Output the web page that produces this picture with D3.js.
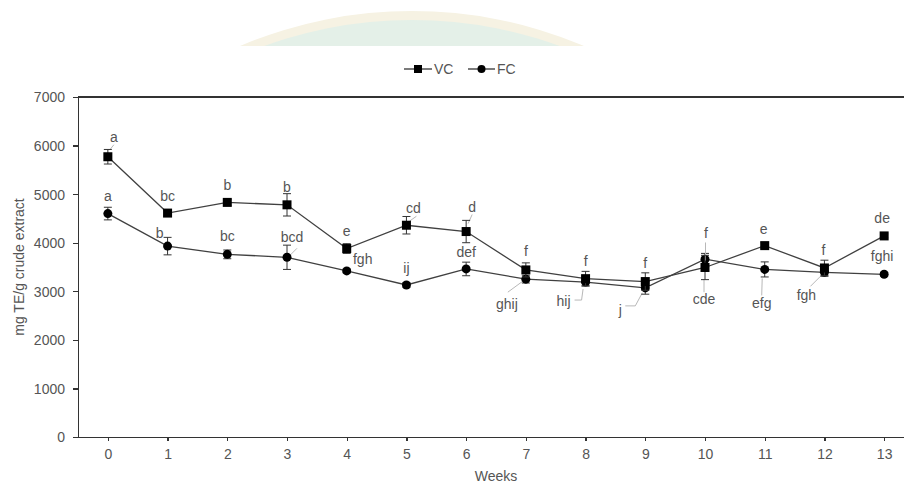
<!DOCTYPE html>
<meta charset="utf-8"/>
<head>
<script src="https://d3js.org/d3.v7.min.js"></script>
<style>
body { margin: 0; background: #fff; }
svg { display: block; }
text { font-family: "Liberation Sans", Arial, sans-serif; fill: #555; }
.axis path, .axis line { stroke: #333; stroke-width: 1.3px; shape-rendering: crispEdges; }
.axis text { font-size: 14px; fill: #555; }
.series { fill: none; stroke: #404040; stroke-width: 1.3px; }
.err { stroke: #333; stroke-width: 1px; }
.lead { fill: none; stroke: #b8b8b8; stroke-width: 1px; }
.lbl { font-size: 14px; text-anchor: middle; }
</style>
</head>
<body>
<div id="chart"></div>
<script>

// weeks on x
var weeks = [0, 1, 2, 3, 4, 5, 6, 7, 8, 9, 10, 11, 12, 13];

// VC series (mg TE/g crude extract)
var vcValues = [5770, 4610, 4830, 4780, 3880, 4360, 4230, 3440, 3260, 3200, 3490, 3940, 3480, 4140];
var vcErrors = [150, 60, 60, 230, 100, 180, 230, 145, 150, 180, 250, 60, 160, 40];
var vcLetters = ["a", "bc", "b", "b", "e", "cd", "d", "f", "f", "f", "f", "e", "f", "de"];

// FC series
var fcValues = [4600, 3930, 3760, 3700, 3420, 3130, 3460, 3250, 3190, 3070, 3660, 3450, 3390, 3350];
var fcErrors = [130, 180, 90, 250, 40, 50, 140, 80, 80, 130, 120, 155, 80, 40];
var fcLetters = ["a", "b", "bc", "bcd", "fgh", "ij", "def", "ghij", "hij", "j", "cde", "efg", "fgh", "fghi"];

var yTicks = [0, 1000, 2000, 3000, 4000, 5000, 6000, 7000];

// label placement (pixel offsets from the point) and leader lines
var vcLabelPos = [[6,-15],[0,-12],[0,-12],[0,-13],[0,-13],[7,-12],[6,-20],[0,-14],[0,-13],[0,-14],[1,-29],[-1,-12],[-1,-13],[-2,-13]];
var vcLeaders = {0: [[2,-7],[6,-12]], 5: [[3,-4],[10,-9]], 6: [[2,-8],[6,-17]], 10: [[0.5,-25],[0.5,-7]]};
var fcLabelPos = [[0,-13],[-8,-8],[0,-13],[5,-15],[16,-7],[0,-12],[0,-12],[-19,30],[-22,24],[-25,27],[-1,45],[-3,39],[-18,28],[-2,-13]];
var fcLeaders = {3: [[3,-2],[10,-9]], 7: [[-18,13],[-3,2]], 8: [[-11,18],[-4,18],[-2.5,7]],
                 9: [[-20,18],[-10,18],[-3,5]], 10: [[-1,33],[-1,20]], 11: [[-3,26],[-2.5,9]], 12: [[-14,14],[-4,4]]};

var W = 904, H = 485;
var svg = d3.select("#chart").append("svg").attr("width", W).attr("height", H);

// faint watermark arc at the top
var wm = svg.append("g");
svg.append("clipPath").attr("id", "wmclip").append("rect").attr("x", 0).attr("y", 0).attr("width", W).attr("height", 46);
wm.attr("clip-path", "url(#wmclip)");
wm.append("circle").attr("cx", 412).attr("cy", 451).attr("r", 440).attr("fill", "#f6f2e3");
wm.append("circle").attr("cx", 412).attr("cy", 452).attr("r", 432).attr("fill", "#e4f0e8");

var x = d3.scaleLinear().domain([-0.5, 13.5]).range([78, 914]);
var y = d3.scaleLinear().domain([0, 7000]).range([437, 97]);

// axes
svg.append("g").attr("class", "axis")
  .attr("transform", "translate(0,437)")
  .call(d3.axisBottom(x).tickValues(weeks).tickSize(4).tickPadding(8).tickSizeOuter(0))
  .call(function(g) { g.select(".domain").attr("d", "M73,0.5H904"); });

svg.append("g").attr("class", "axis")
  .attr("transform", "translate(78,0)")
  .call(d3.axisLeft(y).tickValues(yTicks).tickFormat(d3.format("d")).tickSize(5).tickPadding(8).tickSizeOuter(0))
  .call(function(g) { g.selectAll(".tick text").attr("dy", "0.35em"); });

svg.append("line").attr("x1", 78).attr("x2", 904).attr("y1", 97).attr("y2", 97)
  .attr("stroke", "#333").attr("stroke-width", 1.3).attr("shape-rendering", "crispEdges");

svg.append("text").attr("transform", "translate(24,267) rotate(-90)")
  .attr("text-anchor", "middle").style("font-size", "14px").text("mg TE/g crude extract");
svg.append("text").attr("x", 496).attr("y", 481).attr("text-anchor", "middle")
  .style("font-size", "14px").text("Weeks");

var line = d3.line().x(function(d) { return x(d[0]); }).y(function(d) { return y(d[1]); });

function drawSeries(values, errors, letters, labelPos, leaders, marker) {
  var pts = weeks.map(function(w, i) { return [w, values[i], errors[i], letters[i], labelPos[i], leaders[i]]; });
  var g = svg.append("g");

  g.append("path").attr("class", "series").attr("d", line(pts));

  // leader lines
  pts.forEach(function(d) {
    if (!d[5]) return;
    var px = x(d[0]), py = y(d[1]);
    g.append("path").attr("class", "lead")
      .attr("d", d3.line()(d[5].map(function(o) { return [px + o[0], py + o[1]]; })));
  });

  // error bars
  var eb = g.selectAll(".eb").data(pts).enter().append("g").attr("class", "err");
  eb.append("line")
    .attr("x1", function(d) { return x(d[0]); }).attr("x2", function(d) { return x(d[0]); })
    .attr("y1", function(d) { return y(d[1] - d[2]); }).attr("y2", function(d) { return y(d[1] + d[2]); });
  [-1, 1].forEach(function(s) {
    eb.append("line")
      .attr("x1", function(d) { return x(d[0]) - 4; }).attr("x2", function(d) { return x(d[0]) + 4; })
      .attr("y1", function(d) { return y(d[1] + s * d[2]); }).attr("y2", function(d) { return y(d[1] + s * d[2]); });
  });

  // markers
  if (marker === "square") {
    g.selectAll(".m").data(pts).enter().append("rect")
      .attr("x", function(d) { return x(d[0]) - 4.5; }).attr("y", function(d) { return y(d[1]) - 4.5; })
      .attr("width", 9).attr("height", 9).attr("fill", "#000");
  } else {
    g.selectAll(".m").data(pts).enter().append("circle")
      .attr("cx", function(d) { return x(d[0]); }).attr("cy", function(d) { return y(d[1]); })
      .attr("r", 4.5).attr("fill", "#000");
  }

  // significance letters
  g.selectAll(".lbl").data(pts).enter().append("text").attr("class", "lbl")
    .attr("x", function(d) { return x(d[0]) + d[4][0]; })
    .attr("y", function(d) { return y(d[1]) + d[4][1]; })
    .text(function(d) { return d[3]; });
}

drawSeries(fcValues, fcErrors, fcLetters, fcLabelPos, fcLeaders, "circle");
drawSeries(vcValues, vcErrors, vcLetters, vcLabelPos, vcLeaders, "square");

// legend
var leg = svg.append("g").attr("transform", "translate(0,69)");
leg.append("line").attr("x1", 404).attr("x2", 432).attr("stroke", "#333").attr("stroke-width", 1.3);
leg.append("rect").attr("x", 414).attr("y", -4).attr("width", 8).attr("height", 8).attr("fill", "#000");
leg.append("text").attr("x", 434).attr("y", 5).style("font-size", "14px").text("VC");
leg.append("line").attr("x1", 468).attr("x2", 495).attr("stroke", "#333").attr("stroke-width", 1.3);
leg.append("circle").attr("cx", 481.5).attr("cy", 0).attr("r", 4).attr("fill", "#000");
leg.append("text").attr("x", 497).attr("y", 5).style("font-size", "14px").text("FC");

</script>
</body>
